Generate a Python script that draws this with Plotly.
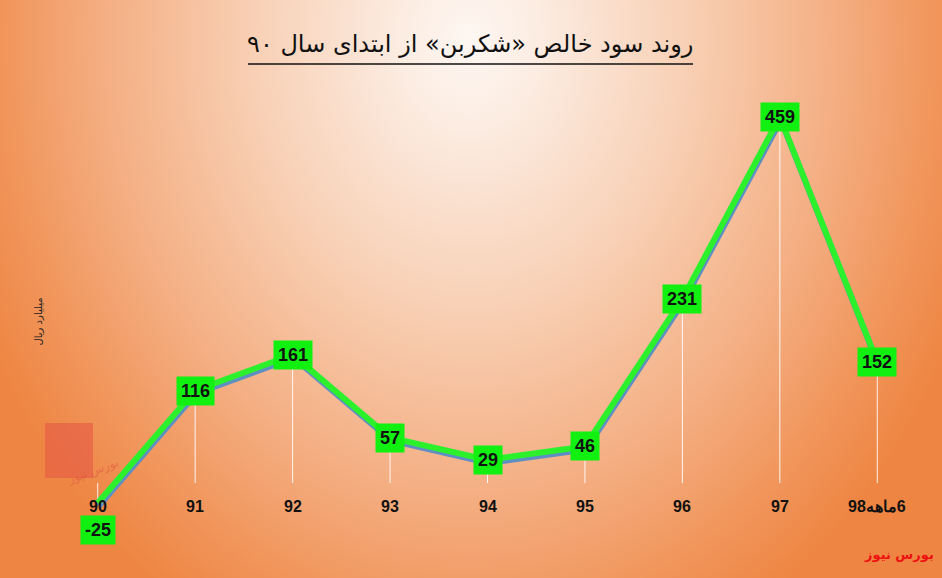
import base64
import plotly.graph_objects as go

categories = ["90", "91", "92", "93", "94", "95", "96", "97", "\u200F6ماهه98"]
profit = [-25, 116, 161, 57, 29, 46, 231, 459, 152]
label_shift = [-27, 0, 0, 0, 0, 0, 0, 0, 0]

title_text = "\u200Fروند سود خالص «شکربن» از ابتدای سال ۹۰"
ylabel_text = "میلیارد ریال"
source_text = "بورس نیوز"

W, H = 942, 578
L, R, T, B = 49, 16, 80, 38
PW, PH = W - L - R, H - T - B
YMIN, YMAX = -71.4, 505.4
XMIN, XMAX = -0.5, len(categories) - 0.5
upp = (YMAX - YMIN) / PH  # units per pixel (y)
xpp = (XMAX - XMIN) / PW

# background radial gradient
svg = f'''<svg xmlns="http://www.w3.org/2000/svg" width="{W}" height="{H}">
<defs><radialGradient id="g" gradientUnits="userSpaceOnUse" cx="470" cy="40" r="600"
 gradientTransform="translate(470 40) scale(0.9 1.12) translate(-470 -40)">
<stop offset="0" stop-color="#FEF7F2"/>
<stop offset="0.12" stop-color="#FCEDE3"/>
<stop offset="0.4" stop-color="#F8D0B5"/>
<stop offset="0.68" stop-color="#F4AE82"/>
<stop offset="0.86" stop-color="#F1965C"/>
<stop offset="1" stop-color="#EE8542"/>
</radialGradient></defs>
<rect width="{W}" height="{H}" fill="url(#g)"/>
</svg>'''
src = "data:image/svg+xml;base64," + base64.b64encode(svg.encode()).decode()

x_idx = list(range(len(categories)))

fig = go.Figure()

# blue shadow line (main axes, shifted range)
fig.add_trace(go.Scatter(x=x_idx, y=profit, mode="lines",
                         line=dict(color="#5E8FC2", width=6),
                         xaxis="x", yaxis="y", hoverinfo="skip", showlegend=False))

# drop lines
dx, dy = [], []
for i, v in zip(x_idx, profit):
    dx += [i, i, None]
    dy += [v, 0, None]
fig.add_trace(go.Scatter(x=dx, y=dy, mode="lines",
                         line=dict(color="rgba(255,255,255,0.9)", width=1),
                         xaxis="x2", yaxis="y2", hoverinfo="skip", showlegend=False))

# green line
fig.add_trace(go.Scatter(x=x_idx, y=profit, mode="lines",
                         line=dict(color="#2DF02D", width=6),
                         xaxis="x2", yaxis="y2", hoverinfo="skip", showlegend=False))

annotations = []
for i, v, s in zip(x_idx, profit, label_shift):
    annotations.append(dict(x=i, y=v, xref="x2", yref="y2", text=f"<b>{v}</b>",
                            showarrow=False, yshift=s,
                            font=dict(family="Liberation Sans", size=18, color="#111111"),
                            bgcolor="#11F011", borderpad=4))
for i, c in zip(x_idx, categories):
    annotations.append(dict(x=i, y=-30, xref="x2", yref="y2", text=f"<b>{c}</b>",
                            showarrow=False,
                            font=dict(family="Liberation Sans", size=16, color="#111111")))

annotations.append(dict(x=(470 - L) / PW, y=(T + PH - 28) / PH, xref="paper", yref="paper",
                        text=title_text, showarrow=False,
                        font=dict(family="DejaVu Sans", size=24, color="#111111")))
annotations.append(dict(x=(30 - L) / PW, y=(T + PH - 322) / PH, xref="paper", yref="paper",
                        text=ylabel_text, showarrow=False, textangle=-90,
                        font=dict(family="DejaVu Sans", size=10, color="#222222")))
annotations.append(dict(x=(936 - L) / PW, y=(T + PH - 564) / PH, xref="paper", yref="paper",
                        text=f"<b>{source_text}</b>", showarrow=False, xanchor="right",
                        font=dict(family="DejaVu Sans", size=13, color="#EE1111")))
annotations.append(dict(x=(62 - L) / PW, y=(T + PH - 490) / PH, xref="paper", yref="paper",
                        text=source_text, showarrow=False, textangle=-20,
                        font=dict(family="DejaVu Sans", size=12, color="rgba(220,70,60,0.45)")))

shapes = [
    dict(type="line", xref="paper", yref="paper",
         x0=(248 - L) / PW, x1=(693 - L) / PW,
         y0=(T + PH - 64) / PH, y1=(T + PH - 64) / PH,
         line=dict(color="#111111", width=1.5)),
    dict(type="rect", xref="paper", yref="paper", layer="below",
         x0=(45 - L) / PW, x1=(93 - L) / PW,
         y0=(T + PH - 478) / PH, y1=(T + PH - 423) / PH,
         fillcolor="rgba(230,95,70,0.7)", line=dict(width=0)),
]

axis_common = dict(showgrid=False, zeroline=False, showticklabels=False,
                   showline=False, ticks="")
fig.update_layout(
    width=W, height=H,
    margin=dict(l=L, r=R, t=T, b=B),
    paper_bgcolor="#EE8540", plot_bgcolor="rgba(0,0,0,0)",
    xaxis=dict(range=[XMIN - 1 * xpp, XMAX - 1 * xpp], **axis_common),
    yaxis=dict(range=[YMIN + 3 * upp, YMAX + 3 * upp], **axis_common),
    xaxis2=dict(range=[XMIN, XMAX], overlaying="x", **axis_common),
    yaxis2=dict(range=[YMIN, YMAX], overlaying="y", **axis_common),
    images=[dict(source=src, xref="paper", yref="paper",
                 x=-L / PW, y=1 + T / PH, sizex=W / PW, sizey=H / PH,
                 xanchor="left", yanchor="top", sizing="stretch", layer="below")],
    annotations=annotations,
    shapes=shapes,
    showlegend=False,
)

fig.write_html("out.html", config={"displayModeBar": False},
               post_script="document.body.style.margin='0';document.body.style.overflow='hidden';")
